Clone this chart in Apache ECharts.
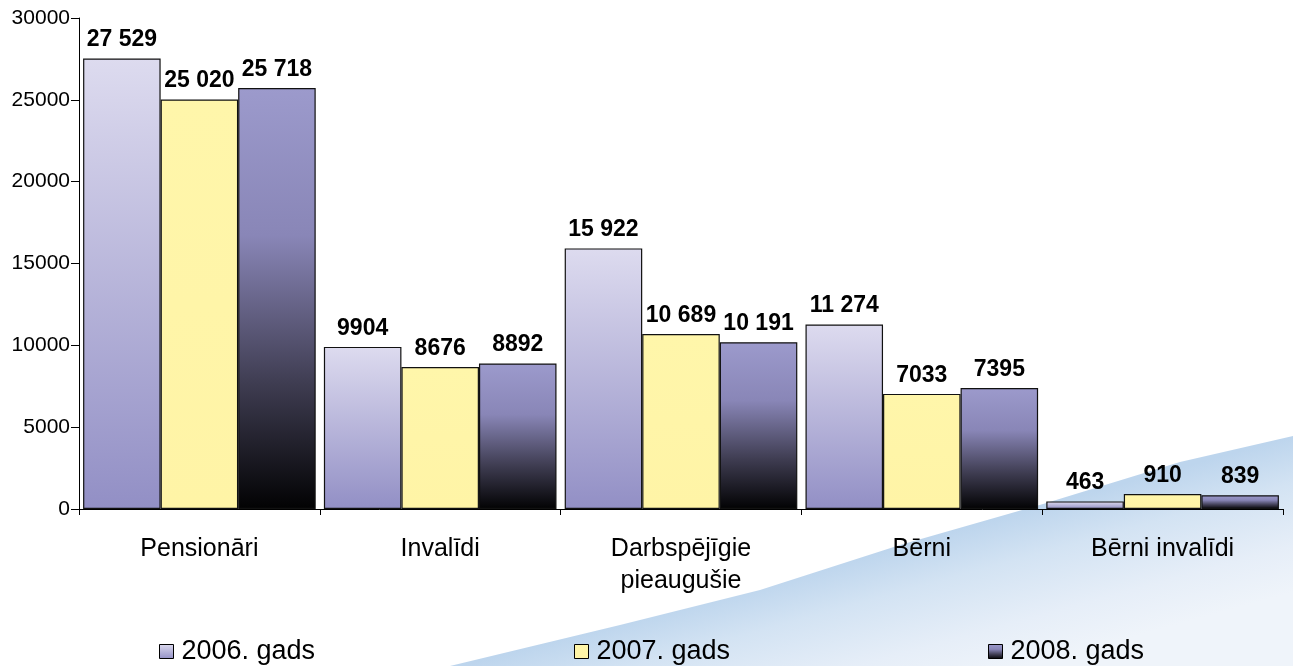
<!DOCTYPE html>
<html>
<head>
<meta charset="utf-8">
<script src="https://cdn.jsdelivr.net/npm/echarts@6/dist/echarts.min.js"></script>
<style>html,body{margin:0;padding:0;background:#fff;}#c{width:1293px;height:666px;}</style>
</head>
<body>
<div id="c"></div>
<script>
const categories = ['Pensionāri', 'Invalīdi', 'Darbspējīgie\npieaugušie', 'Bērni', 'Bērni invalīdi'];
const seriesNames = ['2006. gads', '2007. gads', '2008. gads'];
const values2006 = [27529, 9904, 15922, 11274, 463];
const values2007 = [25020, 8676, 10689, 7033, 910];
const values2008 = [25718, 8892, 10191, 7395, 839];
const yTicks = [0, 5000, 10000, 15000, 20000, 25000, 30000];

const FONT = '"Liberation Sans", Arial, sans-serif';
const grad = (x, y, x2, y2, stops, global) => ({
  type: 'linear', x: x, y: y, x2: x2, y2: y2, global: !!global,
  colorStops: stops.map((c) => ({offset: c[0], color: c[1]}))
});
const fills = [
  grad(0, 0, 0, 1, [[0, '#dddbef'], [1, '#928fc5']]),
  grad(0, 0, 0, 1, [[0, '#fff6aa'], [1, '#fff4a6']]),
  grad(0, 0, 0, 1, [[0, '#9c9acc'], [0.35, '#8986b7'], [0.7, '#3f3d52'], [1, '#020203']])
];
const fmt = (v) => v >= 10000 ? String(v).replace(/(\d+)(\d{3})$/, '$1 $2') : String(v);

const chart = echarts.init(document.getElementById('c'), null, {renderer: 'canvas'});
const data = [values2006, values2007, values2008];
const legendLefts = [154, 569, 983];

chart.setOption({
  animation: false,
  backgroundColor: '#ffffff',
  graphic: {
    elements: [{
      type: 'polygon',
      z: -10,
      silent: true,
      shape: {points: [[1293, 436], [1180, 462], [1043, 504], [900, 545], [760, 590], [620, 625], [450, 666], [1293, 666]]},
      style: {
        fill: grad(900, 545, 940, 690, [[0, '#bdd5ed'], [0.3, '#d3e3f3'], [0.7, '#e6eef8'], [1, '#eff4fa']], true)
      }
    }]
  },
  grid: {left: 79, right: 10, top: 18, bottom: 157, containLabel: false},
  legend: seriesNames.map((n, i) => ({
    data: [n],
    left: legendLefts[i],
    top: 633,
    itemWidth: 14,
    itemHeight: 14,
    itemGap: 8,
    selectedMode: false,
    icon: 'rect',
    itemStyle: {borderColor: '#000', borderWidth: 1},
    textStyle: {fontFamily: FONT, fontSize: 27, color: '#000', padding: [0, 0, 0, 3]}
  })),
  xAxis: {
    type: 'category',
    data: categories,
    axisLine: {lineStyle: {color: '#000', width: 1}},
    axisTick: {show: true, alignWithLabel: false, length: 6, lineStyle: {color: '#000'}},
    axisLabel: {fontFamily: FONT, fontSize: 25, color: '#000', margin: 24, lineHeight: 32}
  },
  yAxis: {
    type: 'value',
    min: yTicks[0],
    max: yTicks[yTicks.length - 1],
    interval: 5000,
    splitLine: {show: false},
    axisLine: {show: true, lineStyle: {color: '#000', width: 1}},
    axisTick: {show: true, length: 8, lineStyle: {color: '#000'}},
    axisLabel: {fontFamily: FONT, fontSize: 21, color: '#000', margin: 9, formatter: (v) => String(v)}
  },
  series: data.map((vals, i) => ({
    name: seriesNames[i],
    type: 'bar',
    data: vals,
    barGap: '0%',
    barCategoryGap: '3.4%',
    itemStyle: {color: fills[i], borderColor: '#111', borderWidth: 1.2},
    label: {
      show: true,
      position: 'top',
      distance: 7,
      fontFamily: FONT,
      fontWeight: 'bold',
      fontSize: 23,
      color: '#000',
      formatter: (p) => fmt(p.value)
    }
  }))
});
</script>
</body>
</html>
